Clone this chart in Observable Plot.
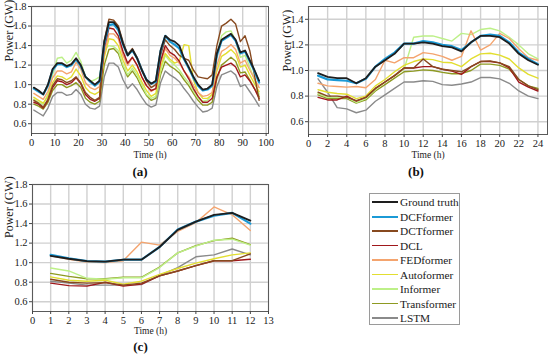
<!DOCTYPE html>
<html>
<head>
<meta charset="utf-8">
<script src="https://cdn.jsdelivr.net/npm/d3@7"></script>
<script src="https://cdn.jsdelivr.net/npm/@observablehq/plot@0.6"></script>
<style>
  body { margin: 0; background: #fff; }
  #fig { position: relative; width: 550px; height: 358px; font-family: "Liberation Serif", "Times New Roman", serif; overflow: hidden; }
  #fig svg { position: absolute; overflow: visible; }
  .legend { position: absolute; left: 369px; top: 193px; width: 91px; height: 132px; border: 1px solid #9a9a9a; box-sizing: border-box; background: #fff; }
  .legend .row { position: absolute; left: 0; height: 14px; width: 100%; }
  .legend .sw { position: absolute; left: 2px; width: 26px; }
  .legend .lb { position: absolute; left: 30px; top: 0; font-size: 11.3px; line-height: 14px; color: #1a1a1a; white-space: nowrap; }
</style>
</head>
<body>
<div id="fig"></div>
<script>
// ---------- series meta ----------
const seriesNames = ["Ground truth", "DCFformer", "DCTformer", "DCL", "FEDformer", "Autoformer", "Informer", "Transformer", "LSTM"];
const seriesColors = ["#1e1e1e", "#1b9ad6", "#87491f", "#a0181c", "#f4a46e", "#e2de30", "#bdf088", "#8e9a22", "#8a8a8a"];
const seriesWidths = [1.8, 2.2, 1.4, 1.4, 1.4, 1.4, 1.4, 1.4, 1.4];

// ---------- panel (a) ----------
const timeA = [1,3,5,7,9,11,13,15,17,19,21,23,25,27,29,31,33,35,37,39,41,43,45,47,49,51,53,55,57,59,61,63,65,67,69,71,73,75,77,79,81,83,85,87,89,91,93,95,97];
const gtA   = [0.97,0.94,0.90,1.00,1.16,1.22,1.22,1.19,1.21,1.27,1.20,1.08,1.04,1.00,1.04,1.44,1.64,1.64,1.58,1.42,1.30,1.36,1.27,1.15,1.05,1.01,1.04,1.35,1.50,1.46,1.44,1.40,1.27,1.18,1.08,1.00,0.95,0.96,1.00,1.32,1.46,1.49,1.52,1.46,1.33,1.35,1.25,1.15,1.04];
const dcfA  = [0.96,0.93,0.90,0.99,1.15,1.21,1.21,1.18,1.20,1.26,1.19,1.08,1.03,0.99,1.03,1.42,1.61,1.62,1.56,1.41,1.30,1.35,1.27,1.15,1.05,1.01,1.03,1.34,1.50,1.44,1.41,1.37,1.26,1.17,1.07,0.99,0.94,0.95,0.99,1.30,1.45,1.48,1.51,1.45,1.32,1.34,1.24,1.14,1.02];
const dctA  = [0.84,0.81,0.77,0.85,0.99,1.06,1.05,1.02,1.04,1.08,1.02,0.92,0.87,0.84,0.87,1.45,1.67,1.66,1.60,1.44,1.31,1.37,1.28,1.16,1.04,0.97,1.00,1.30,1.46,1.40,1.36,1.30,1.27,1.25,1.15,1.08,1.07,1.06,1.10,1.40,1.60,1.63,1.67,1.62,1.44,1.50,1.35,1.10,0.84];
const dclA  = [0.82,0.80,0.76,0.84,0.97,1.04,1.03,1.00,1.02,1.07,1.01,0.90,0.85,0.83,0.86,1.38,1.58,1.57,1.50,1.34,1.22,1.28,1.20,1.08,0.99,0.94,0.96,1.24,1.40,1.33,1.30,1.24,1.14,1.06,0.96,0.88,0.82,0.82,0.86,1.08,1.18,1.20,1.22,1.18,1.08,1.10,1.04,0.96,0.86];
const fedA  = [0.91,0.88,0.85,0.93,1.07,1.14,1.14,1.11,1.13,1.23,1.16,1.02,0.97,0.95,0.98,1.32,1.52,1.52,1.47,1.30,1.20,1.28,1.20,1.08,0.99,0.93,0.96,1.22,1.37,1.30,1.27,1.22,1.14,1.08,0.99,0.92,0.88,0.89,0.92,1.20,1.34,1.37,1.41,1.36,1.22,1.25,1.15,1.06,0.97];
const autoA = [0.87,0.84,0.81,0.88,1.02,1.09,1.08,1.05,1.08,1.16,1.09,0.97,0.92,0.90,0.93,1.28,1.47,1.46,1.40,1.25,1.14,1.20,1.13,1.03,0.94,0.88,0.91,1.18,1.32,1.26,1.22,1.24,1.41,1.40,1.05,0.92,0.86,0.86,0.90,1.14,1.29,1.32,1.36,1.31,1.18,1.20,1.10,1.01,0.93];
const infA  = [0.85,0.82,0.80,0.90,1.10,1.27,1.28,1.22,1.25,1.33,1.24,1.08,1.03,1.05,1.08,1.36,1.40,1.39,1.35,1.20,1.10,1.17,1.10,1.00,0.90,0.86,0.88,1.14,1.30,1.24,1.20,1.15,1.08,1.02,0.94,0.86,0.83,0.84,0.90,1.30,1.50,1.54,1.55,1.45,1.28,1.30,1.18,1.05,0.90];
const trA   = [0.80,0.78,0.75,0.82,0.94,1.00,1.00,0.97,0.99,1.02,0.97,0.86,0.82,0.80,0.83,1.20,1.36,1.37,1.32,1.18,1.08,1.14,1.07,0.97,0.89,0.84,0.86,1.10,1.24,1.19,1.16,1.12,1.05,0.99,0.91,0.84,0.79,0.79,0.82,1.06,1.20,1.24,1.28,1.24,1.12,1.13,1.05,0.96,0.88];
const lstmA = [0.74,0.71,0.68,0.76,0.88,0.92,0.92,0.89,0.90,0.95,0.90,0.80,0.76,0.75,0.78,1.08,1.22,1.22,1.18,1.05,0.96,1.01,0.95,0.87,0.80,0.77,0.79,1.02,1.14,1.10,1.07,1.03,0.96,0.90,0.83,0.77,0.72,0.73,0.76,0.98,1.10,1.12,1.14,1.10,0.98,1.00,0.93,0.86,0.78];
const xTicksA = [0,10,20,30,40,50,60,70,80,90,100];
const yTicksA = [0.6,0.8,1.0,1.2,1.4,1.6,1.8];

// ---------- panel (b) ----------
const timeB = [1,2,3,4,5,6,7,8,9,10,11,12,13,14,15,16,17,18,19,20,21,22,23,24];
const gtB   = [0.98,0.95,0.94,0.94,0.90,0.94,1.03,1.08,1.13,1.21,1.21,1.22,1.21,1.19,1.18,1.15,1.22,1.27,1.27,1.26,1.21,1.13,1.08,1.045];
const dcfB  = [0.96,0.93,0.925,0.92,0.90,0.935,1.03,1.09,1.14,1.21,1.21,1.23,1.22,1.20,1.19,1.16,1.22,1.27,1.28,1.27,1.22,1.14,1.09,1.05];
const dctB  = [0.83,0.80,0.80,0.79,0.765,0.79,0.86,0.91,0.96,1.02,1.02,1.09,1.03,1.01,1.00,0.99,1.03,1.07,1.075,1.06,1.03,0.93,0.88,0.85];
const dclB  = [0.79,0.77,0.77,0.80,0.76,0.79,0.86,0.91,0.96,1.02,1.02,1.03,1.03,1.01,0.995,0.97,1.03,1.07,1.07,1.06,1.02,0.91,0.87,0.84];
const fedB  = [0.90,0.88,0.875,0.87,0.875,0.865,0.93,1.08,1.06,1.10,1.10,1.14,1.13,1.11,1.08,1.11,1.31,1.16,1.20,1.29,1.25,1.17,1.10,1.08];
const autoB = [0.85,0.83,0.82,0.815,0.78,0.80,0.88,0.93,0.99,1.04,1.07,1.09,1.085,1.065,1.06,1.03,1.09,1.13,1.135,1.12,1.09,1.02,0.97,0.94];
const infB  = [0.82,0.79,0.79,0.79,0.75,0.78,0.85,0.91,0.96,1.01,1.26,1.27,1.27,1.25,1.23,1.29,1.28,1.32,1.33,1.31,1.26,1.20,1.13,1.09];
const trB   = [0.81,0.78,0.78,0.78,0.745,0.77,0.84,0.89,0.94,0.99,0.995,1.005,1.00,0.985,0.975,0.975,1.00,1.05,1.05,1.04,1.01,0.93,0.88,0.86];
const lstmB = [0.935,0.83,0.71,0.70,0.67,0.69,0.76,0.81,0.86,0.91,0.91,0.92,0.915,0.89,0.885,0.895,0.91,0.945,0.945,0.935,0.90,0.84,0.80,0.78];
const xTicksB = [0,2,4,6,8,10,12,14,16,18,20,22,24];
const yTicksB = [0.6,0.8,1.0,1.2,1.4];

// ---------- panel (c) ----------
const timeC = [1,2,3,4,5,6,7,8,9,10,11,12];
const gtC   = [1.07,1.04,1.015,1.01,1.03,1.03,1.16,1.335,1.42,1.49,1.51,1.43];
const dcfC  = [1.08,1.045,1.015,1.01,1.03,1.03,1.16,1.34,1.42,1.48,1.51,1.40];
const dctC  = [0.83,0.80,0.79,0.795,0.77,0.79,0.865,0.915,0.97,1.02,1.02,1.09];
const dclC  = [0.79,0.765,0.76,0.80,0.76,0.78,0.865,0.915,0.97,1.02,1.02,1.035];
const fedC  = [1.07,1.035,1.005,1.00,1.02,1.21,1.18,1.32,1.41,1.57,1.49,1.33];
const autoC = [0.855,0.82,0.81,0.82,0.78,0.81,0.88,0.94,0.995,1.04,1.08,1.10];
const infC  = [0.945,0.915,0.84,0.83,0.845,0.845,0.95,1.10,1.17,1.23,1.24,1.18];
const trC   = [0.89,0.86,0.835,0.835,0.85,0.85,0.955,1.10,1.175,1.225,1.25,1.185];
const lstmC = [0.81,0.79,0.77,0.77,0.77,0.775,0.87,0.95,1.06,1.08,1.14,1.08];
const xTicksC = [0,1,2,3,4,5,6,7,8,9,10,11,12,13];
const yTicksC = [0.6,0.8,1.0,1.2,1.4,1.6,1.8];

const FONT = '"Liberation Serif", "Times New Roman", serif';

function drawPanel(cfg) {
  const marks = [
    Plot.gridX(cfg.xTicks, {stroke: "#d0d0d0", strokeOpacity: 1, strokeWidth: 1.4}),
    Plot.gridY(cfg.yTicks, {stroke: "#d0d0d0", strokeOpacity: 1, strokeWidth: 1.4})
  ];
  for (let i = seriesNames.length - 1; i >= 0; i--) {
    const vals = cfg.series[i];
    const rows = cfg.time.map((t, j) => ({time: t, power: vals[j], model: seriesNames[i]}));
    marks.push(Plot.line(rows, {x: "time", y: "power", stroke: seriesColors[i], strokeWidth: seriesWidths[i], strokeLinejoin: "round"}));
  }
  marks.push(Plot.frame({stroke: "#5a5a5a", strokeWidth: 1}));
  marks.push(Plot.axisX(cfg.xTicks, {tickSize: 3, tickPadding: 2, fontSize: 10.5, label: null, tickFormat: d => String(d), stroke: "#444", fill: "#222"}));
  marks.push(Plot.axisY(cfg.yTicks, {tickSize: 3, tickPadding: 2, fontSize: 10.5, label: null, tickFormat: d3.format(".1f"), stroke: "#444", fill: "#222"}));
  marks.push(Plot.text(["Time (h)"], {text: d => d, frameAnchor: "bottom", dy: cfg.timeDy, fontSize: 9.5, lineAnchor: "middle", fill: "#222"}));
  marks.push(Plot.text([cfg.tag], {text: d => d, frameAnchor: "bottom", dx: cfg.tagDx, dy: cfg.tagDy, fontSize: 13, fontWeight: "bold", lineAnchor: "middle", fill: "#111"}));
  marks.push(Plot.text(["Power (GW)"], {text: d => d, frameAnchor: "left", dx: cfg.powDx, dy: cfg.powDy, rotate: -90, fontSize: 12, lineAnchor: "middle", fill: "#222"}));
  const svg = Plot.plot({
    width: cfg.width, height: cfg.height,
    marginTop: cfg.mt, marginRight: cfg.mr, marginBottom: cfg.mb, marginLeft: cfg.ml,
    x: {domain: cfg.xDomain},
    y: {domain: cfg.yDomain},
    style: {fontFamily: FONT, background: "transparent", overflow: "visible"},
    marks
  });
  svg.style.left = cfg.left + "px";
  svg.style.top = cfg.top + "px";
  return svg;
}

const fig = document.getElementById("fig");

fig.appendChild(drawPanel({
  time: timeA, series: [gtA, dcfA, dctA, dclA, fedA, autoA, infA, trA, lstmA],
  xTicks: xTicksA, yTicks: yTicksA, xDomain: [0, 101], yDomain: [0.5, 1.8],
  width: 275, height: 180, mt: 6, mr: 7, mb: 47, ml: 31, left: 0, top: 0,
  timeDy: 21, tag: "(a)", tagDx: -10, tagDy: 38, powDx: -22.5, powDy: -8.5
}));

fig.appendChild(drawPanel({
  time: timeB, series: [gtB, dcfB, dctB, dclB, fedB, autoB, infB, trB, lstmB],
  xTicks: xTicksB, yTicks: yTicksB, xDomain: [0, 25], yDomain: [0.5, 1.5],
  width: 275, height: 180, mt: 6, mr: 3, mb: 46, ml: 33, left: 275, top: 0,
  timeDy: 20, tag: "(b)", tagDx: -12, tagDy: 37, powDx: -21, powDy: 1
}));

fig.appendChild(drawPanel({
  time: timeC, series: [gtC, dcfC, dctC, dclC, fedC, autoC, infC, trC, lstmC],
  xTicks: xTicksC, yTicks: yTicksC, xDomain: [0, 13], yDomain: [0.5, 1.8],
  width: 275, height: 183, mt: 9, mr: 7, mb: 47, ml: 32, left: 0, top: 175,
  timeDy: 19.7, tag: "(c)", tagDx: -10, tagDy: 35.7, powDx: -23, powDy: -10
}));

// ---------- legend ----------
const legend = document.createElement("div");
legend.className = "legend";
seriesNames.forEach((name, i) => {
  const row = document.createElement("div");
  row.className = "row";
  row.style.top = (1 + i * 14.5) + "px";
  const sw = document.createElement("div");
  sw.className = "sw";
  const h = i < 2 ? 2 : 1.5;
  sw.style.height = h + "px";
  sw.style.top = (7 - h / 2) + "px";
  sw.style.background = seriesColors[i];
  const lb = document.createElement("div");
  lb.className = "lb";
  lb.textContent = name;
  row.appendChild(sw);
  row.appendChild(lb);
  legend.appendChild(row);
});
fig.appendChild(legend);
</script>
</body>
</html>
